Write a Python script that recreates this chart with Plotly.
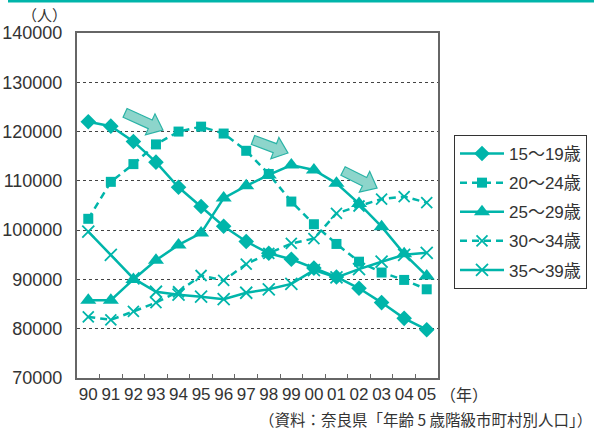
import plotly.graph_objects as go

# Population by 5-year age group, Nara Prefecture (1990-2005)
years = ["90", "91", "92", "93", "94", "95", "96", "97",
         "98", "99", "00", "01", "02", "03", "04", "05"]
age_15_19 = [122000, 121100, 118000, 113800, 108700, 104800, 100800, 97700,
             95300, 94100, 92300, 90500, 88200, 85300, 82100, 79800]
age_20_24 = [102300, 109800, 113400, 117400, 120000, 121000, 119600, 116100,
             111400, 105800, 101200, 97200, 93600, 91400, 89900, 88000]
age_25_29 = [85800, 85800, 90000, 93900, 97000, 99400, 106500, 109000,
             111200, 113200, 112200, 109500, 105400, 100700, 95200, 90700]
age_30_34 = [82400, 81800, 83500, 85300, 87500, 90800, 89800, 93100,
             95300, 97300, 98300, 103400, 104900, 106300, 106800, 105600]
age_35_39 = [99700, 95000, 90200, 87500, 86900, 86500, 86000, 87300,
             88000, 89100, 91900, 90400, 92100, 93600, 95000, 95400]

series_names = ["15～19歳", "20～24歳", "25～29歳", "30～34歳", "35～39歳"]

# Cohort-shift arrows: (start index, start value) -> (end index, end value)
arrow_tails = [(1.63, 123800), (7.30, 118300), (11.29, 112000)]
arrow_tips = [(3.31, 120300), (8.85, 115650), (12.80, 108550)]

TEAL = "#00b5aa"
ARROW_FILL = "#8dd5cb"
ARROW_EDGE = "#2ab3a6"
TEXT = "#333333"
NUM_FONT = "Liberation Sans Narrow, Arial Narrow, Liberation Sans, Noto Sans CJK JP"
CJK_FONT = "Noto Sans CJK JP, Liberation Sans Narrow, sans-serif"

Y_MIN, Y_MAX = 70000, 140000
W_PX, H_PX = 594, 430
M_L, M_R, M_T, M_B = 77, 156, 33, 52
PLOT_W = W_PX - M_L - M_R
PLOT_H = H_PX - M_T - M_B

styles = [
    dict(symbol="diamond", size=12, dash="solid"),
    dict(symbol="square", size=10, dash="7px,5px"),
    dict(symbol="triangle-up", size=14, dash="solid"),
    dict(symbol="x-thin", size=11, dash="7px,5px"),
    dict(symbol="x-thin", size=12, dash="solid"),
]
values = [age_15_19, age_20_24, age_25_29, age_30_34, age_35_39]

fig = go.Figure()
for name, vals, st in zip(series_names, values, styles):
    thin = st["symbol"].startswith("x")
    fig.add_trace(go.Scatter(
        x=years, y=vals, name=name, legendgroup=name,
        mode="lines+markers",
        line=dict(color=TEAL, width=2.5, dash=st["dash"]),
        marker=dict(symbol=st["symbol"], size=st["size"], color=TEAL,
                    line=dict(color=TEAL, width=1.8 if thin else 0)),
    ))


def data_to_px(i, v):
    """Category index / value -> pixels inside the plot area (y up)."""
    return (i + 0.5) / len(years) * PLOT_W, (v - Y_MIN) / (Y_MAX - Y_MIN) * PLOT_H


def block_arrow(tail, tip, shaft=4.8, head=11.5, head_len=14.0):
    tx, ty = data_to_px(*tail)
    px, py = data_to_px(*tip)
    dx, dy = px - tx, py - ty
    ln = (dx * dx + dy * dy) ** 0.5
    ux, uy = dx / ln, dy / ln
    nx, ny = -uy, ux
    neck_x, neck_y = px - ux * head_len, py - uy * head_len
    pts = [
        (tx + nx * shaft, ty + ny * shaft),
        (neck_x + nx * shaft, neck_y + ny * shaft),
        (neck_x + nx * head, neck_y + ny * head),
        (px, py),
        (neck_x - nx * head, neck_y - ny * head),
        (neck_x - nx * shaft, neck_y - ny * shaft),
        (tx - nx * shaft, ty - ny * shaft),
    ]
    pts = [(x / PLOT_W, y / PLOT_H) for x, y in pts]
    return "M " + " L ".join(f"{x:.5f},{y:.5f}" for x, y in pts) + " Z"


shapes = []
for tail, tip in zip(arrow_tails, arrow_tips):
    shapes.append(dict(type="path", xref="paper", yref="paper",
                       path=block_arrow(tail, tip),
                       fillcolor=ARROW_FILL, line=dict(color=ARROW_EDGE, width=1.2),
                       layer="above"))

# Teal rule across the top of the page
shapes.append(dict(type="rect", xref="paper", yref="paper",
                   x0=(8 - M_L) / PLOT_W, x1=(W_PX - M_L) / PLOT_W,
                   y0=(H_PX - M_B - 2.5) / PLOT_H, y1=(H_PX - M_B + 1) / PLOT_H,
                   fillcolor=TEAL, line=dict(width=0)))

annotations = [
    dict(text="（人）", xref="paper", yref="paper",
         x=(44 - M_L) / PLOT_W, y=(H_PX - M_B - 14) / PLOT_H,
         xanchor="center", yanchor="middle", showarrow=False,
         font=dict(family=CJK_FONT, size=15, color=TEXT)),
    dict(text="（年）", xref="paper", yref="paper",
         x=(438 - M_L) / PLOT_W, y=(H_PX - M_B - 394) / PLOT_H,
         xanchor="left", yanchor="middle", showarrow=False,
         font=dict(family=CJK_FONT, size=16, color=TEXT)),
    dict(text="（資料：奈良県「年齢 5 歳階級市町村別人口」）", xref="paper", yref="paper",
         x=(594 - M_L) / PLOT_W, y=(H_PX - M_B - 419) / PLOT_H,
         xanchor="right", yanchor="middle", showarrow=False,
         font=dict(family=CJK_FONT, size=15.5, color=TEXT)),
]

fig.update_layout(
    width=W_PX, height=H_PX,
    margin=dict(l=M_L, r=M_R, t=M_T, b=M_B, autoexpand=False),
    paper_bgcolor="white", plot_bgcolor="white",
    shapes=shapes, annotations=annotations,
    showlegend=True,
    legend=dict(x=(454 - M_L) / PLOT_W, y=(H_PX - M_B - 135) / PLOT_H,
                xanchor="left", yanchor="top",
                bordercolor="#333333", borderwidth=1, bgcolor="white",
                font=dict(family=NUM_FONT, size=17, color=TEXT),
                tracegroupgap=4, itemwidth=44),
)

fig.update_xaxes(
    type="category", range=[-0.5, len(years) - 0.5], automargin=False,
    tickmode="array", tickvals=years, ticktext=years,
    tickangle=0, tickson="boundaries", ticks="inside", ticklen=4,
    tickcolor="#666666", tickwidth=1,
    showgrid=False, showline=True, linecolor="#666666", linewidth=2, mirror=True,
    tickfont=dict(family=NUM_FONT, size=17, color=TEXT),
)
fig.update_yaxes(
    range=[Y_MIN, Y_MAX], dtick=10000, tickformat="d", automargin=False,
    showgrid=True, gridcolor="#444444", gridwidth=1, griddash="3px,3px",
    showline=True, linecolor="#666666", linewidth=2, mirror=True,
    ticks="", ticklabelstandoff=9,
    tickfont=dict(family=NUM_FONT, size=18, color=TEXT),
    zeroline=False,
)

fig.write_html("out.html")
